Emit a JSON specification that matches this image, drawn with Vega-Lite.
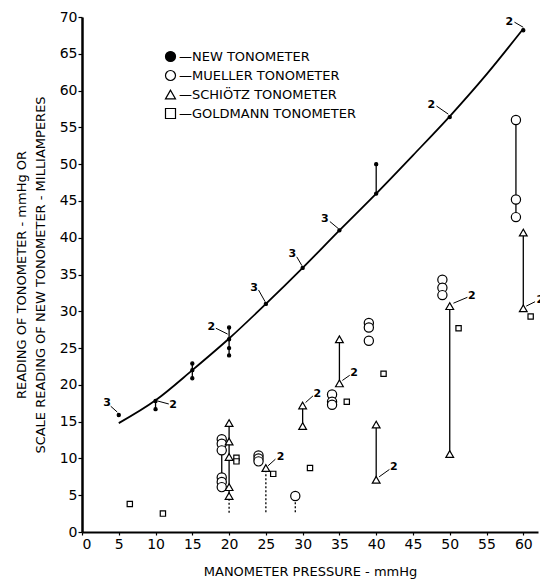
{
  "$schema": "https://vega.github.io/schema/vega-lite/v6.json",
  "autosize": {"type": "none"},
  "padding": {"left": 82, "top": 17, "right": 2, "bottom": 51},
  "width": 456,
  "height": 515,
  "background": "white",
  "config": {
    "view": {"stroke": null},
    "font": "DejaVu Sans",
    "axis": {"grid": false, "domainColor": "black", "tickColor": "black", "labelColor": "black", "titleColor": "black", "labelFont": "DejaVu Sans", "titleFont": "DejaVu Sans", "titleFontWeight": "normal"}
  },
  "datasets": {
    "pts": [
      {"x": 5, "y": 15.9, "inst": "NEW TONOMETER"},
      {"x": 10, "y": 17.8, "inst": "NEW TONOMETER"},
      {"x": 10, "y": 16.7, "inst": "NEW TONOMETER"},
      {"x": 15, "y": 22.9, "inst": "NEW TONOMETER"},
      {"x": 15, "y": 22, "inst": "NEW TONOMETER"},
      {"x": 15, "y": 20.9, "inst": "NEW TONOMETER"},
      {"x": 20, "y": 27.8, "inst": "NEW TONOMETER"},
      {"x": 20, "y": 26.2, "inst": "NEW TONOMETER"},
      {"x": 20, "y": 25, "inst": "NEW TONOMETER"},
      {"x": 20, "y": 24, "inst": "NEW TONOMETER"},
      {"x": 25, "y": 31, "inst": "NEW TONOMETER"},
      {"x": 30, "y": 35.9, "inst": "NEW TONOMETER"},
      {"x": 35, "y": 41, "inst": "NEW TONOMETER"},
      {"x": 40, "y": 46, "inst": "NEW TONOMETER"},
      {"x": 40, "y": 50, "inst": "NEW TONOMETER"},
      {"x": 50, "y": 56.4, "inst": "NEW TONOMETER"},
      {"x": 60, "y": 68.2, "inst": "NEW TONOMETER"},
      {"x": 19, "y": 12.6, "inst": "MUELLER TONOMETER"},
      {"x": 19, "y": 12, "inst": "MUELLER TONOMETER"},
      {"x": 19, "y": 11.1, "inst": "MUELLER TONOMETER"},
      {"x": 19, "y": 7.4, "inst": "MUELLER TONOMETER"},
      {"x": 19, "y": 6.8, "inst": "MUELLER TONOMETER"},
      {"x": 19, "y": 6.1, "inst": "MUELLER TONOMETER"},
      {"x": 24, "y": 10.4, "inst": "MUELLER TONOMETER"},
      {"x": 24, "y": 10, "inst": "MUELLER TONOMETER"},
      {"x": 24, "y": 9.6, "inst": "MUELLER TONOMETER"},
      {"x": 29, "y": 4.9, "inst": "MUELLER TONOMETER"},
      {"x": 34, "y": 18.7, "inst": "MUELLER TONOMETER"},
      {"x": 34, "y": 17.7, "inst": "MUELLER TONOMETER"},
      {"x": 34, "y": 17.3, "inst": "MUELLER TONOMETER"},
      {"x": 39, "y": 28.4, "inst": "MUELLER TONOMETER"},
      {"x": 39, "y": 27.8, "inst": "MUELLER TONOMETER"},
      {"x": 39, "y": 26, "inst": "MUELLER TONOMETER"},
      {"x": 49, "y": 34.3, "inst": "MUELLER TONOMETER"},
      {"x": 49, "y": 33.2, "inst": "MUELLER TONOMETER"},
      {"x": 49, "y": 32.2, "inst": "MUELLER TONOMETER"},
      {"x": 59, "y": 56, "inst": "MUELLER TONOMETER"},
      {"x": 59, "y": 45.2, "inst": "MUELLER TONOMETER"},
      {"x": 59, "y": 42.8, "inst": "MUELLER TONOMETER"},
      {"x": 20, "y": 14.8, "inst": "SCHIÖTZ TONOMETER"},
      {"x": 20, "y": 12.3, "inst": "SCHIÖTZ TONOMETER"},
      {"x": 20, "y": 10.2, "inst": "SCHIÖTZ TONOMETER"},
      {"x": 20, "y": 6.1, "inst": "SCHIÖTZ TONOMETER"},
      {"x": 20, "y": 4.9, "inst": "SCHIÖTZ TONOMETER"},
      {"x": 25, "y": 8.7, "inst": "SCHIÖTZ TONOMETER"},
      {"x": 30, "y": 17.2, "inst": "SCHIÖTZ TONOMETER"},
      {"x": 30, "y": 14.4, "inst": "SCHIÖTZ TONOMETER"},
      {"x": 35, "y": 26.2, "inst": "SCHIÖTZ TONOMETER"},
      {"x": 35, "y": 20.2, "inst": "SCHIÖTZ TONOMETER"},
      {"x": 40, "y": 14.6, "inst": "SCHIÖTZ TONOMETER"},
      {"x": 40, "y": 7.1, "inst": "SCHIÖTZ TONOMETER"},
      {"x": 50, "y": 30.7, "inst": "SCHIÖTZ TONOMETER"},
      {"x": 50, "y": 10.6, "inst": "SCHIÖTZ TONOMETER"},
      {"x": 60, "y": 40.7, "inst": "SCHIÖTZ TONOMETER"},
      {"x": 60, "y": 30.4, "inst": "SCHIÖTZ TONOMETER"},
      {"x": 6.5, "y": 3.8, "inst": "GOLDMANN TONOMETER"},
      {"x": 11, "y": 2.5, "inst": "GOLDMANN TONOMETER"},
      {"x": 21, "y": 10.1, "inst": "GOLDMANN TONOMETER"},
      {"x": 21, "y": 9.6, "inst": "GOLDMANN TONOMETER"},
      {"x": 26, "y": 7.9, "inst": "GOLDMANN TONOMETER"},
      {"x": 31, "y": 8.7, "inst": "GOLDMANN TONOMETER"},
      {"x": 36, "y": 17.7, "inst": "GOLDMANN TONOMETER"},
      {"x": 41, "y": 21.5, "inst": "GOLDMANN TONOMETER"},
      {"x": 51.2, "y": 27.7, "inst": "GOLDMANN TONOMETER"},
      {"x": 61, "y": 29.3, "inst": "GOLDMANN TONOMETER"}
    ],
    "ranges": [
      {"x": 10, "y": 16.7, "y2": 17.8, "kind": "range"},
      {"x": 15, "y": 20.9, "y2": 22.9, "kind": "range"},
      {"x": 20, "y": 24, "y2": 27.8, "kind": "range"},
      {"x": 40, "y": 46, "y2": 50, "kind": "range"},
      {"x": 19, "y": 6.1, "y2": 12.6, "kind": "range"},
      {"x": 59, "y": 42.8, "y2": 56, "kind": "range"},
      {"x": 29, "y": 2.7, "y2": 4.9, "kind": "below"},
      {"x": 20, "y": 4.9, "y2": 14.8, "kind": "range"},
      {"x": 30, "y": 14.4, "y2": 17.2, "kind": "range"},
      {"x": 35, "y": 20.2, "y2": 26.2, "kind": "range"},
      {"x": 40, "y": 7.1, "y2": 14.6, "kind": "range"},
      {"x": 50, "y": 10.6, "y2": 30.7, "kind": "range"},
      {"x": 60, "y": 30.4, "y2": 40.7, "kind": "range"},
      {"x": 20, "y": 2.6, "y2": 4.9, "kind": "below"},
      {"x": 25, "y": 2.7, "y2": 8.7, "kind": "below"}
    ],
    "curve": [
      {"x": 5, "y": 14.8},
      {"x": 10, "y": 17.9},
      {"x": 15, "y": 22},
      {"x": 20, "y": 26.3},
      {"x": 25, "y": 31},
      {"x": 30, "y": 35.9},
      {"x": 35, "y": 41},
      {"x": 40, "y": 46},
      {"x": 45, "y": 51.2},
      {"x": 50, "y": 56.5},
      {"x": 55, "y": 62.2},
      {"x": 60, "y": 68.4}
    ],
    "notes": [
      {"x": 3.4, "y": 17.6, "n": "3", "lx": 3.9, "ly": 17.1, "lx2": 4.8, "ly2": 16.3},
      {"x": 12.4, "y": 17.2, "n": "2", "lx": 11.8, "ly": 17.4, "lx2": 10.3, "ly2": 17.8},
      {"x": 17.6, "y": 27.8, "n": "2", "lx": 18.2, "ly": 27.7, "lx2": 19.8, "ly2": 26.9},
      {"x": 23.4, "y": 33.2, "n": "3", "lx": 24, "ly": 32.9, "lx2": 24.9, "ly2": 31.3},
      {"x": 28.6, "y": 37.8, "n": "3", "lx": 29.2, "ly": 37.4, "lx2": 29.9, "ly2": 36.2},
      {"x": 33, "y": 42.6, "n": "3", "lx": 33.7, "ly": 42.2, "lx2": 34.9, "ly2": 41.2},
      {"x": 47.5, "y": 58, "n": "2", "lx": 48.2, "ly": 57.9, "lx2": 49.8, "ly2": 56.8},
      {"x": 58.1, "y": 69.3, "n": "2", "lx": 58.8, "ly": 69.3, "lx2": 60, "ly2": 68.6},
      {"x": 27, "y": 10.2, "n": "2", "lx": 26.3, "ly": 9.9, "lx2": 25.3, "ly2": 9},
      {"x": 32, "y": 18.8, "n": "2", "lx": 31.4, "ly": 18.5, "lx2": 30.4, "ly2": 17.6},
      {"x": 37, "y": 21.6, "n": "2", "lx": 36.4, "ly": 21.3, "lx2": 35.4, "ly2": 20.6},
      {"x": 42.4, "y": 8.8, "n": "2", "lx": 41.8, "ly": 8.5, "lx2": 40.4, "ly2": 7.5},
      {"x": 53, "y": 32.1, "n": "2", "lx": 52.4, "ly": 31.9, "lx2": 50.5, "ly2": 31.1},
      {"x": 62.3, "y": 31.5, "n": "2", "lx": 61.6, "ly": 31.3, "lx2": 60.4, "ly2": 30.7}
    ]
  },
  "encoding": {
    "x": {"field": "x", "type": "quantitative", "scale": {"domain": [0, 62], "nice": false},
      "axis": {"values": [0,5,10,15,20,25,30,35,40,45,50,55,60], "title": "MANOMETER PRESSURE - mmHg", "labelFontSize": 14, "titleFontSize": 13, "tickSize": 3, "labelPadding": 2, "titlePadding": 14, "domainWidth": 1.8, "tickWidth": 1.2}},
    "y": {"field": "y", "type": "quantitative", "scale": {"domain": [0, 70], "nice": false},
      "axis": {"values": [0,5,10,15,20,25,30,35,40,45,50,55,60,65,70], "title": ["READING OF TONOMETER - mmHg OR", "SCALE READING OF NEW TONOMETER - MILLIAMPERES"], "labelFontSize": 14, "titleFontSize": 13, "titleLineHeight": 19, "tickSize": 4, "labelPadding": 1, "titlePadding": 12, "domainWidth": 2.5, "tickWidth": 1.2}}
  },
  "layer": [
    {
      "data": {"name": "curve"},
      "mark": {"type": "line", "color": "black", "strokeWidth": 1.8, "interpolate": "monotone"},
      "encoding": {}
    },
    {
      "data": {"name": "ranges"},
      "mark": {"type": "rule", "color": "black", "strokeWidth": 1.3},
      "encoding": {
        "y2": {"field": "y2"},
        "strokeDash": {"field": "kind", "type": "nominal", "scale": {"domain": ["range", "below"], "range": [[1, 0], [2, 2]]}, "legend": null}
      }
    },
    {
      "data": {"name": "notes"},
      "mark": {"type": "rule", "color": "black", "strokeWidth": 1},
      "encoding": {
        "x": {"field": "lx", "type": "quantitative"},
        "y": {"field": "ly", "type": "quantitative"},
        "x2": {"field": "lx2"},
        "y2": {"field": "ly2"}
      }
    },
    {
      "data": {"name": "notes"},
      "mark": {"type": "text", "color": "black", "fontSize": 11, "fontWeight": "bold", "font": "DejaVu Sans"},
      "encoding": {"text": {"field": "n"}}
    },
    {
      "data": {"name": "pts"},
      "mark": {"type": "point", "filled": true, "strokeWidth": 1.2, "opacity": 1, "fillOpacity": 1, "strokeOpacity": 1},
      "encoding": {
        "shape": {"field": "inst", "type": "nominal", "scale": {"domain": ["NEW TONOMETER", "MUELLER TONOMETER", "SCHIÖTZ TONOMETER", "GOLDMANN TONOMETER"], "range": ["circle", "circle", "triangle-up", "square"]},
          "legend": {"orient": "none", "legendX": 82, "legendY": 33, "title": null, "labelExpr": "'—' + datum.label", "labelFontSize": 13, "labelFont": "DejaVu Sans", "labelColor": "black", "labelLimit": 400, "rowPadding": 4, "labelOffset": 2, "symbolStrokeWidth": 1.2, "padding": 0,
            "encode": {"symbols": {"size": {"signal": "datum.value === 'NEW TONOMETER' ? 12 : (datum.value === 'GOLDMANN TONOMETER' ? 30 : 60)"}}}}},
        "fill": {"field": "inst", "type": "nominal", "scale": {"domain": ["NEW TONOMETER", "MUELLER TONOMETER", "SCHIÖTZ TONOMETER", "GOLDMANN TONOMETER"], "range": ["black", "white", "white", "white"]},
          "legend": {"orient": "none", "legendX": 82, "legendY": 33, "title": null, "labelExpr": "'—' + datum.label", "labelFontSize": 13, "labelFont": "DejaVu Sans", "labelColor": "black", "labelLimit": 400, "rowPadding": 4, "labelOffset": 2, "symbolStrokeWidth": 1.2, "padding": 0,
            "encode": {"symbols": {"size": {"signal": "datum.value === 'NEW TONOMETER' ? 12 : (datum.value === 'GOLDMANN TONOMETER' ? 30 : 60)"}}}}},
        "stroke": {"field": "inst", "type": "nominal", "scale": {"domain": ["NEW TONOMETER", "MUELLER TONOMETER", "SCHIÖTZ TONOMETER", "GOLDMANN TONOMETER"], "range": ["black", "black", "black", "black"]},
          "legend": {"orient": "none", "legendX": 82, "legendY": 33, "title": null, "labelExpr": "'—' + datum.label", "labelFontSize": 13, "labelFont": "DejaVu Sans", "labelColor": "black", "labelLimit": 400, "rowPadding": 4, "labelOffset": 2, "symbolStrokeWidth": 1.2, "padding": 0,
            "encode": {"symbols": {"size": {"signal": "datum.value === 'NEW TONOMETER' ? 12 : (datum.value === 'GOLDMANN TONOMETER' ? 30 : 60)"}}}}},
        "size": {"condition": [{"test": "datum.inst === 'NEW TONOMETER'", "value": 10}, {"test": "datum.inst === 'GOLDMANN TONOMETER'", "value": 28}, {"test": "datum.inst === 'SCHIÖTZ TONOMETER'", "value": 60}], "value": 85}
      }
    }
  ]
}
